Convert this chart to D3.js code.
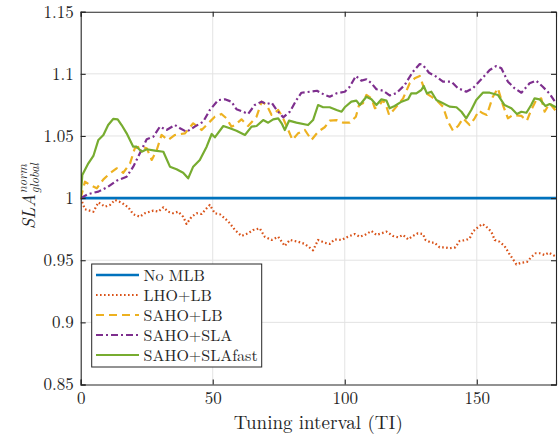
<!DOCTYPE html>
<html><head><meta charset="utf-8">
<script src="https://cdn.jsdelivr.net/npm/d3@7"></script>
<style>body{margin:0;background:#fff}text{font-family:"Latin Modern Roman","CMU Serif","Liberation Serif",serif;fill:#262626}</style>
</head><body><svg id="c" width="559" height="436"></svg>
<script>
const xTicks = [0, 50, 100, 150];
const yTicks = [0.85, 0.9, 0.95, 1, 1.05, 1.1, 1.15];
const yTickLabels = ["0.85", "0.9", "0.95", "1", "1.05", "1.1", "1.15"];
const seriesNames = ["No MLB", "LHO+LB", "SAHO+LB", "SAHO+SLA", "SAHO+SLAfast"];

const noMLB = [[0,1],[180,1]];
const lhoLB = [[0,1.0],[1.6,0.991],[4.8,0.989],[6.7,0.9966],[9.2,0.9931],[11.1,0.9945],[13,0.9985],[15.5,0.9963],[18,0.9926],[19.9,0.987],[22.4,0.985],[24.3,0.9878],[27.5,0.9899],[29.4,0.9891],[31.3,0.9926],[33.1,0.9891],[35,0.9878],[36.9,0.9891],[38.8,0.985],[40.1,0.9792],[42,0.985],[43.9,0.9878],[45.8,0.9872],[47.7,0.9918],[48.9,0.9945],[50.8,0.9878],[52.7,0.987],[54.6,0.9837],[56.5,0.9797],[58.4,0.9743],[60.9,0.9695],[63.4,0.9717],[65.3,0.9743],[67.8,0.9757],[69.7,0.9689],[72.3,0.9663],[74.8,0.9689],[77.3,0.9615],[79.2,0.9663],[82.3,0.9649],[84.9,0.9631],[88,0.958],[89.9,0.9663],[92.4,0.9641],[94.3,0.9631],[96.2,0.9668],[98.8,0.9663],[101.2,0.9689],[103.8,0.9711],[105.7,0.9689],[107.6,0.9703],[110.1,0.9735],[112,0.9703],[113.9,0.9717],[115.8,0.973],[118.3,0.9695],[120.2,0.9685],[122.1,0.9703],[124,0.9668],[125.8,0.9695],[127.7,0.9717],[129.6,0.9711],[130.6,0.9663],[132.8,0.9641],[134,0.9641],[135.9,0.9604],[137.8,0.9604],[139.7,0.9596],[141.9,0.9604],[143.5,0.9655],[146,0.9663],[147.3,0.9676],[148.5,0.973],[150.4,0.9765],[152.1,0.9792],[153.6,0.977],[155.5,0.973],[156.8,0.9663],[158.6,0.9649],[160.5,0.9615],[162.2,0.9556],[163.7,0.9508],[165,0.9467],[166.9,0.948],[169,0.9486],[170.6,0.9524],[172.3,0.9556],[173.8,0.9556],[175.7,0.9542],[177.3,0.9561],[180,0.9529]];
const sahoLB = [[0,1.0],[1.6,1.0132],[3.5,1.0106],[6.1,1.0079],[8.6,1.0151],[11.1,1.02],[13.6,1.024],[16.1,1.0204],[18.7,1.028],[20.5,1.0401],[22.4,1.0414],[25,1.0401],[26.9,1.0307],[28.8,1.0387],[30.6,1.0508],[33.1,1.0468],[35.7,1.0508],[39.5,1.0521],[42.6,1.0602],[45.8,1.0548],[48.3,1.0602],[50.8,1.0655],[53.3,1.0677],[55.2,1.0642],[57.1,1.0575],[58.4,1.0588],[60.9,1.0634],[63.4,1.058],[66.6,1.0655],[68.5,1.0776],[70.4,1.0749],[72.3,1.0669],[74.8,1.0709],[76.4,1.0655],[78.6,1.0548],[80.2,1.0468],[82.3,1.0521],[84.9,1.0548],[87.4,1.0468],[89.9,1.0534],[92.4,1.057],[94.3,1.0623],[96.9,1.0628],[99.4,1.0607],[101.9,1.0607],[104.2,1.0655],[105.4,1.0749],[106.9,1.0763],[108.2,1.083],[110.1,1.0803],[111.4,1.0723],[113.2,1.0749],[114.5,1.0789],[115.8,1.0736],[116.8,1.0669],[119.6,1.0736],[122.1,1.0803],[124.6,1.0924],[126.5,1.0964],[128.4,1.0983],[129.6,1.091],[130.9,1.0843],[132.8,1.0816],[134.7,1.0789],[137.2,1.0736],[139.1,1.0615],[141,1.0542],[142.9,1.058],[144.8,1.0642],[147.3,1.0588],[149.2,1.0642],[150.8,1.0703],[152.3,1.0682],[153.8,1.0669],[156.1,1.0816],[158,1.0884],[159.9,1.0749],[161.8,1.0642],[163.7,1.0669],[166.9,1.0661],[169,1.0623],[170.6,1.0709],[172.5,1.0789],[174.4,1.0803],[175.7,1.0695],[177.6,1.0763],[180,1.07]];
const sahoSLA = [[0,1.0],[2.9,1.0033],[6.7,1.0052],[10.4,1.0092],[13.6,1.014],[17.4,1.0172],[19.9,1.0253],[22.4,1.036],[25,1.0473],[27.5,1.0494],[30,1.0575],[32.5,1.0548],[35.7,1.0588],[37.6,1.0562],[40.1,1.0534],[43.2,1.0575],[46.4,1.0615],[48.9,1.0709],[52.1,1.0789],[54.6,1.0795],[57.1,1.0776],[59,1.0715],[61.5,1.0695],[63.4,1.0677],[65.9,1.0749],[68.5,1.0776],[70.4,1.0757],[72.3,1.0768],[74.2,1.0709],[76.7,1.065],[79.2,1.0695],[81.7,1.0789],[83.6,1.0848],[86.8,1.0856],[89.5,1.0864],[92.4,1.083],[94.3,1.0816],[96.9,1.0843],[100,1.0856],[101.9,1.0896],[104.2,1.0983],[106.3,1.0945],[108.2,1.0956],[110.1,1.0924],[112,1.0876],[114.5,1.0864],[117,1.0826],[119.6,1.0845],[122.7,1.091],[125.8,1.1017],[128.4,1.1079],[129.6,1.1071],[131.9,1.1009],[134.7,1.0977],[137.2,1.0937],[140.4,1.0937],[142.9,1.0884],[146,1.0856],[148.5,1.0884],[151.7,1.0956],[154.9,1.1031],[157.4,1.1063],[159.3,1.1045],[161.8,1.0937],[164.3,1.0884],[166.9,1.0848],[170,1.0924],[172.5,1.0945],[175,1.0896],[177.6,1.084],[180,1.0763]];
const sahoSLAfast = [[0,1.0],[0.6,1.0186],[2.9,1.028],[4.8,1.0339],[6.7,1.0468],[8.6,1.0508],[10.4,1.0588],[12.3,1.0637],[14,1.0634],[15.5,1.0588],[17.4,1.0521],[19.9,1.0414],[21.2,1.0414],[23.1,1.0373],[25,1.0393],[28.1,1.0382],[31.3,1.0373],[33.8,1.0253],[36.3,1.0232],[38.8,1.0204],[40.7,1.0159],[42.6,1.0253],[45.1,1.0307],[47.7,1.0414],[49.6,1.0516],[50.8,1.0489],[54,1.058],[56.5,1.0562],[59,1.0542],[62.2,1.0508],[64.7,1.0575],[66.6,1.058],[69.1,1.0628],[71,1.0607],[72.9,1.0634],[74.8,1.0642],[76.1,1.0602],[77.3,1.0548],[78.9,1.0623],[81.7,1.0607],[86.1,1.0588],[88,1.0628],[89.9,1.0749],[91.8,1.0731],[94.3,1.0731],[96.9,1.0709],[98.8,1.0695],[100,1.0731],[102.5,1.0776],[104.4,1.0784],[105.7,1.0749],[108.2,1.0816],[110.1,1.0795],[112,1.0749],[113.9,1.0795],[115.8,1.0784],[117,1.0723],[118.9,1.0741],[121.5,1.0776],[124,1.0795],[125.2,1.0843],[127.1,1.0843],[129,1.087],[129.9,1.0902],[131.1,1.0843],[132.8,1.0856],[134.7,1.0789],[137.2,1.0763],[139.7,1.0736],[142.3,1.0731],[144.2,1.0695],[146,1.0642],[147.9,1.0709],[149.8,1.0789],[152.3,1.0848],[154.9,1.0848],[158,1.083],[160.5,1.0749],[163.1,1.0723],[165.2,1.0677],[166.9,1.0695],[168.8,1.0687],[170.6,1.0749],[171.9,1.0803],[173.8,1.0795],[176,1.0741],[177.6,1.0757],[180,1.0731]];

const seriesData = [noMLB, lhoLB, sahoLB, sahoSLA, sahoSLAfast];
const colors = ["#0072BD", "#D95319", "#EDB120", "#7E2F8E", "#77AC30"];
const dashes = [null, "1.6,2.4", "8,5", "7,3,2,3", null];
const widths = [2.6, 2.2, 2.2, 2.2, 2.2];

const L = 80.7, R = 556, T = 11.7, B = 384.5;
const svg = d3.select("#c");
const x = d3.scaleLinear().domain([0, 180]).range([L, R]);
const y = d3.scaleLinear().domain([0.85, 1.15]).range([B, T]);

// grid
const g = svg.append("g");
g.selectAll(".gx").data(xTicks.filter(d => d > 0)).join("line")
  .attr("x1", d => x(d)).attr("x2", d => x(d)).attr("y1", T).attr("y2", B)
  .attr("stroke", "#e3e3e3").attr("stroke-width", 1);
g.selectAll(".gy").data(yTicks.filter(d => d > 0.85 && d < 1.15)).join("line")
  .attr("y1", d => y(d)).attr("y2", d => y(d)).attr("x1", L).attr("x2", R)
  .attr("stroke", "#e3e3e3").attr("stroke-width", 1);

// lines
const line = d3.line().x(d => x(d[0])).y(d => y(d[1]));
svg.append("clipPath").attr("id", "pc").append("rect")
  .attr("x", L).attr("y", T).attr("width", R - L).attr("height", B - T);
seriesData.forEach((s, i) => {
  svg.append("path").datum(s).attr("d", line).attr("fill", "none")
    .attr("clip-path", "url(#pc)")
    .attr("stroke", colors[i]).attr("stroke-width", widths[i])
    .attr("stroke-dasharray", dashes[i]).attr("stroke-linejoin", "round");
});

// axes
const ax = "#262626";
const axB = svg.append("g").attr("transform", `translate(0,${B})`)
  .call(d3.axisBottom(x).tickValues(xTicks).tickSize(-5).tickPadding(10).tickFormat(d3.format("d")));
const axT = svg.append("g").attr("transform", `translate(0,${T})`)
  .call(d3.axisTop(x).tickValues(xTicks).tickSize(-5).tickFormat(""));
const axL = svg.append("g").attr("transform", `translate(${L},0)`)
  .call(d3.axisLeft(y).tickValues(yTicks).tickSize(-5).tickPadding(7).tickFormat((d, i) => yTickLabels[i]));
const axR = svg.append("g").attr("transform", `translate(${R},0)`)
  .call(d3.axisRight(y).tickValues(yTicks).tickSize(-5).tickFormat(""));
[axB, axT, axL, axR].forEach(a => {
  a.select(".domain").attr("stroke", ax).attr("stroke-width", 1.1);
  a.selectAll(".tick line").attr("stroke", ax).attr("stroke-width", 1.1);
  a.selectAll("text").style("font-size", "17px").attr("fill", ax);
});
axB.selectAll(".tick text").attr("dy", "0.55em");

// x label
svg.append("text").attr("x", (L + R) / 2).attr("y", 429).attr("text-anchor", "middle")
  .style("font-size", "19px").text("Tuning interval (TI)");

// y label
const yl = svg.append("g").attr("transform", "translate(35,229) rotate(-90)");
const sla = yl.append("text").attr("x", 0).attr("y", 0).style("font-size", "18px")
  .style("font-style", "italic").text("SLA");
const w = sla.node().getComputedTextLength();
yl.append("text").attr("x", w + 1).attr("y", -8).style("font-size", "12.5px").style("font-style", "italic").text("norm");
yl.append("text").attr("x", w + 1).attr("y", 4).style("font-size", "12.5px").style("font-style", "italic").text("global");

// legend
const lg = svg.append("g");
lg.append("rect").attr("x", 91.7).attr("y", 264).attr("width", 170).attr("height", 103)
  .attr("fill", "#fff").attr("stroke", ax).attr("stroke-width", 1);
seriesNames.forEach((n, i) => {
  const yy = 275 + i * 20;
  lg.append("line").attr("x1", 96).attr("x2", 139).attr("y1", yy).attr("y2", yy)
    .attr("stroke", colors[i]).attr("stroke-width", widths[i]).attr("stroke-dasharray", dashes[i]);
  lg.append("text").attr("x", 143.5).attr("y", yy + 5.5).style("font-size", "16px").text(n);
});
</script></body></html>
